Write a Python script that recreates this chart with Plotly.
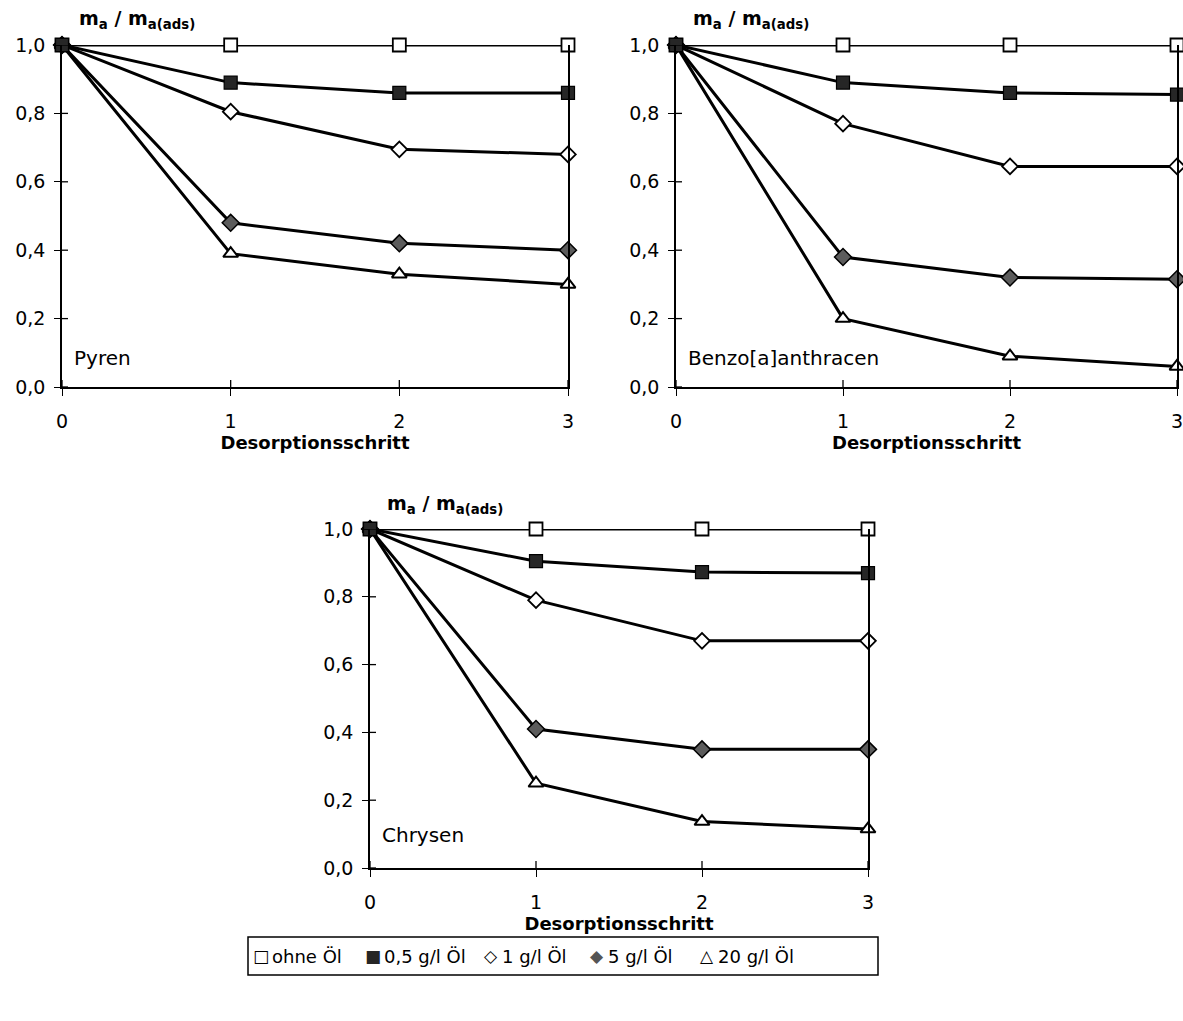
import plotly.graph_objects as go

# Desorption steps and remaining adsorbed fraction m_a / m_a(ads)
steps = [0, 1, 2, 3]
series_names = ["ohne Öl", "0,5 g/l Öl", "1 g/l Öl", "5 g/l Öl", "20 g/l Öl"]
legend_glyphs = ["□", "■", "◇", "◆", "△"]

pyren = [
    [1.0, 1.0, 1.0, 1.0],
    [1.0, 0.89, 0.86, 0.86],
    [1.0, 0.805, 0.695, 0.68],
    [1.0, 0.48, 0.42, 0.40],
    [1.0, 0.39, 0.33, 0.30],
]
benzo_a_anthracen = [
    [1.0, 1.0, 1.0, 1.0],
    [1.0, 0.89, 0.86, 0.855],
    [1.0, 0.77, 0.645, 0.645],
    [1.0, 0.38, 0.32, 0.315],
    [1.0, 0.20, 0.09, 0.06],
]
chrysen = [
    [1.0, 1.0, 1.0, 1.0],
    [1.0, 0.905, 0.873, 0.87],
    [1.0, 0.79, 0.67, 0.67],
    [1.0, 0.41, 0.35, 0.35],
    [1.0, 0.25, 0.137, 0.115],
]
compound_names = ["Pyren", "Benzo[a]anthracen", "Chrysen"]

x_ticks = [0, 1, 2, 3]
y_ticks = [0.0, 0.2, 0.4, 0.6, 0.8, 1.0]
y_ticklabels = ["0,0", "0,2", "0,4", "0,6", "0,8", "1,0"]

FONT = "DejaVu Sans"
W, H = 1183, 1021

# marker style per series
markers = [
    dict(symbol="square", size=13, color="white", line=dict(color="black", width=1.8)),
    dict(symbol="square", size=13, color="#262626", line=dict(color="black", width=1.2)),
    dict(symbol="diamond", size=12, color="white", line=dict(color="black", width=1.8)),
    dict(symbol="diamond", size=13, color="#5c5c5c", line=dict(color="black", width=1.5)),
    dict(symbol="triangle-up", size=13, color="white", line=dict(color="black", width=2)),
]
glyph_colors = ["black", "#262626", "black", "#555555", "black"]

# panel placement (pixel boxes: left, right, top, bottom) and name-label offset
panels = [
    (pyren, (62, 568, 45, 387), 29),
    (benzo_a_anthracen, (676, 1177, 45, 387), 29),
    (chrysen, (370, 868, 529, 868), 33),
]

fig = go.Figure()
layout = {}
annotations = []
shapes = []

draw_order = [0, 2, 3, 4, 1]

for p, (data, (l, r, t, b), name_off) in enumerate(panels):
    suffix = "" if p == 0 else str(p + 1)
    xa, ya = "x" + suffix, "y" + suffix
    for i in draw_order:
        fig.add_trace(go.Scatter(
            x=steps, y=data[i], mode="lines+markers",
            line=dict(color="black", width=3),
            marker=markers[i], cliponaxis=False, showlegend=False,
            xaxis=xa, yaxis=ya, name=series_names[i],
        ))
    layout["xaxis" + suffix] = dict(
        domain=[l / W, r / W], anchor=ya, range=[0, 3],
        tickvals=x_ticks, ticktext=[str(v) for v in x_ticks],
        ticks="outside", ticklen=7, tickwidth=1.3, tickcolor="black",
        showline=True, linecolor="black", linewidth=1.6, showgrid=False,
        zeroline=False, ticklabelstandoff=9, automargin=False,
        ticklabeloverflow="allow",
        tickfont=dict(family=FONT, size=19, color="black"),
        title=dict(text="<b>Desorptionsschritt</b>", standoff=6,
                   font=dict(family=FONT, size=18, color="black")),
    )
    layout["yaxis" + suffix] = dict(
        domain=[1 - b / H, 1 - t / H], anchor=xa, range=[0, 1],
        tickvals=y_ticks, ticktext=y_ticklabels,
        ticks="outside", ticklen=6, tickwidth=1.3, tickcolor="black",
        showline=True, mirror=True, linecolor="black", linewidth=1.6,
        showgrid=False, zeroline=False, ticklabelstandoff=5, automargin=False,
        ticklabeloverflow="allow",
        tickfont=dict(family=FONT, size=19, color="black"),
    )
    # inner half of the crossing tick marks
    for v in x_ticks:
        shapes.append(dict(type="line", xref=xa, yref=ya + " domain",
                           ysizemode="pixel", yanchor=0, x0=v, x1=v, y0=0, y1=7,
                           line=dict(color="black", width=1.3)))
    for v in y_ticks:
        shapes.append(dict(type="line", xref=xa + " domain", yref=ya,
                           xsizemode="pixel", xanchor=0, y0=v, y1=v, x0=0, x1=6,
                           line=dict(color="black", width=1.3)))
    # quantity label above the y axis
    annotations.append(dict(
        text="<b>m<sub>a</sub> / m<sub>a(ads)</sub></b>", xref="paper", yref="paper",
        x=(l + 15) / W, y=1 - (t - 25) / H, xanchor="left", yanchor="middle",
        showarrow=False, font=dict(family=FONT, size=19, color="black"),
    ))
    # compound name inside the panel
    annotations.append(dict(
        text=compound_names[p], xref="paper", yref="paper",
        x=(l + 10) / W, y=1 - (b - name_off) / H, xanchor="left", yanchor="middle",
        showarrow=False, font=dict(family=FONT, size=20, color="black"),
    ))

# legend box along the bottom, one glyph + label per series
legend_box = (248, 878, 937, 975)
legend_glyph_x = [261, 373, 491, 597, 707]
shapes.append(dict(type="rect", xref="paper", yref="paper",
                   x0=legend_box[0] / W, x1=legend_box[1] / W,
                   y0=1 - legend_box[3] / H, y1=1 - legend_box[2] / H,
                   line=dict(color="black", width=1.5), fillcolor="rgba(0,0,0,0)"))
legend_y = 1 - (legend_box[2] + legend_box[3]) / 2 / H
for i, name in enumerate(series_names):
    gx = legend_glyph_x[i]
    annotations.append(dict(
        text=legend_glyphs[i], xref="paper", yref="paper", x=gx / W, y=legend_y,
        xanchor="center", yanchor="middle", showarrow=False,
        font=dict(family=FONT, size=17, color=glyph_colors[i]),
    ))
    annotations.append(dict(
        text=name, xref="paper", yref="paper", x=(gx + 9) / W, y=legend_y,
        xanchor="left", yanchor="middle", showarrow=False,
        font=dict(family=FONT, size=18, color="black"),
    ))

fig.update_layout(
    width=W, height=H,
    margin=dict(l=0, r=0, t=0, b=0, pad=0, autoexpand=False),
    paper_bgcolor="white", plot_bgcolor="white", showlegend=False,
    annotations=annotations, shapes=shapes,
    **layout,
)

fig.write_html("out.html")
